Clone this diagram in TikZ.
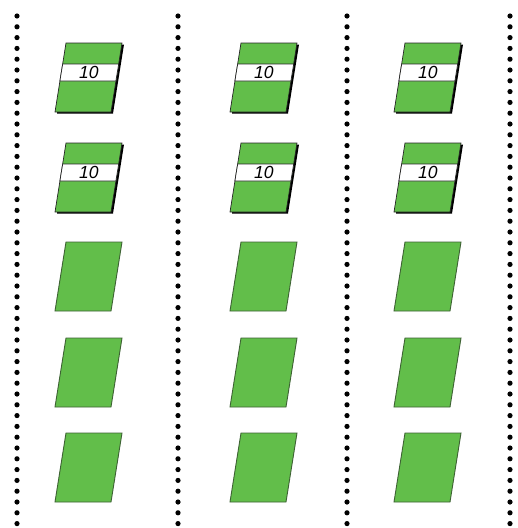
\documentclass[tikz,border=0pt]{standalone}
\usepackage{fontspec}
\setsansfont{Liberation Sans}
\usetikzlibrary{calc}

\definecolor{cardgreen}{RGB}{98,190,74}
\definecolor{cardedge}{RGB}{62,98,52}

\begin{document}
\begin{tikzpicture}[x=1pt, y=-1pt,
    dotline/.style={fill=black},
    card/.pic={
        \draw[cardedge, fill=cardgreen, line width=0.9pt] (0,0) -- (56,0) -- (45,69) -- (-11,69) -- cycle;
    },
    tagcard/.pic={
        % shadow
        \fill[black] (2,1.5) -- (58,1.5) -- (47,70.5) -- (-9,70.5) -- cycle;
        \draw[black!85, fill=cardgreen, line width=0.7pt] (0,0) -- (56,0) -- (45,69) -- (-11,69) -- cycle;
        \draw[black!85, fill=white, line width=0.7pt] (-3.3,21) -- (52.7,21) -- (49.9,38) -- (-6.1,38) -- cycle;
        \node[font=\sffamily\itshape\fontsize{17.5}{17.5}\selectfont, inner sep=0pt] (-num) at (22.8,29.5) {10};
    }
]
    \useasboundingbox[fill=white] (0,0) rectangle (518,528);

    % dotted separators
    \foreach \x in {17,178,347,510}
        \foreach \y in {16,26.8,...,524}
            \fill[dotline] (\x,\y) circle[radius=2.6pt];

    % columns of cards
    \foreach \x in {66,241,405} {
        \pic at (\x,43) {tagcard};
        \pic at (\x,143) {tagcard};
        \pic at (\x,242) {card};
        \pic at (\x,338) {card};
        \pic at (\x,433) {card};
    }
\end{tikzpicture}
\end{document}
